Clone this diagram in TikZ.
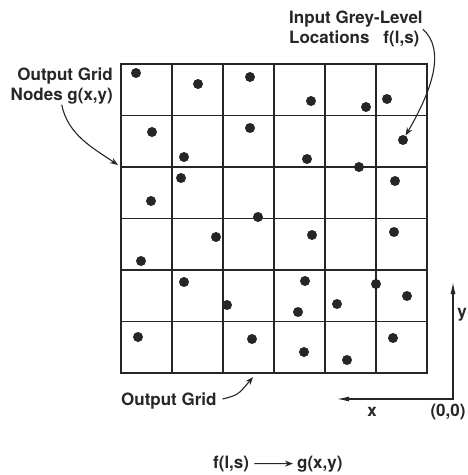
\documentclass[tikz,border=0pt]{standalone}
\usepackage{fontspec}
\setmainfont{TeX Gyre Heros}
\usetikzlibrary{arrows.meta,positioning}
\definecolor{ink}{HTML}{262626}
\tikzset{
  pt/.style={circle, fill=ink, inner sep=0pt, minimum size=10pt},
  cell/.style={draw=ink, line width=1.3pt, line cap=rect},
  lbl/.style={font=\bfseries\fontsize{17}{20}\selectfont, text=ink, inner sep=0pt},
  link/.style={-{Stealth[length=8pt,width=6pt]}, line width=1.1pt, draw=ink},
  axis/.style={{Latex[length=12pt,width=5pt]}-{Latex[length=12pt,width=5pt]}, line width=1.2pt, draw=ink},
}
\newcommand{\outgrid}{%
  \foreach \i in {0,...,6} \draw[cell] (121+51*\i,64) -- (121+51*\i,373);
  \foreach \j in {0,...,6} \draw[cell] (121,64+51.5*\j) -- (427,64+51.5*\j);}

\begin{document}
\begin{tikzpicture}[x=1pt, y=-1pt]
  \useasboundingbox (0,0) rectangle (468,475);
  \outgrid
  % input grey-level samples
  \foreach \px/\py [count=\k] in {136/73, 198/84, 250/77, 311/101, 366/107, 387/99,
      152/132, 250/128, 184/157, 403/140, 307/159, 359/167,
      181/178, 151/201, 395/181, 258/217,
      216/237, 141/261, 312/235, 394/232,
      184/282, 227/305, 305/281, 298/312, 337/304, 376/284, 407/296,
      138/337, 252/339, 304/352, 347/360, 393/338}
    \node[pt] (p\k) at (\px,\py) {};
  \node[lbl, align=right, anchor=north east] (nodes) at (113,68) {Output Grid\\Nodes g(x,y)};
  \node[lbl, align=left, anchor=north west] (locs) at (289,11) {Input Grey-Level\\Locations\hspace{14pt}f(l,s)};
  \node[lbl, anchor=base west] (grid) at (121,405) {Output Grid};
  \coordinate (gridtip) at (118,165);
  \coordinate (gridbot) at (253,377);
  \draw[link] (nodes.south) .. controls (68,135) and (93,148) .. (gridtip);
  \draw[link] (locs.east) .. controls (446,50) and (432,90) .. (p10);
  \draw[link, shorten <=6pt] (grid.east) .. controls (238,395) .. (gridbot);
  % axes
  \coordinate (org) at (453,399);
  \coordinate (ytip) at (453,282);
  \coordinate (xtip) at (337,399);
  \draw[axis] (ytip) -- (org) -- (xtip);
  \node[lbl] (ylab) at (462,315) {y};
  \node[lbl] (xlab) at (372,412) {x};
  \node[lbl] (olab) at (448,412) {(0,0)};
  % mapping
  \node[lbl, anchor=base west] (fls) at (213,468) {f(l,s)};
  \node[lbl, anchor=base west] (gxy) at (297,468) {g(x,y)};
  \draw[link, shorten <=5pt, shorten >=4pt] (fls) -- (gxy);
\end{tikzpicture}
\end{document}
